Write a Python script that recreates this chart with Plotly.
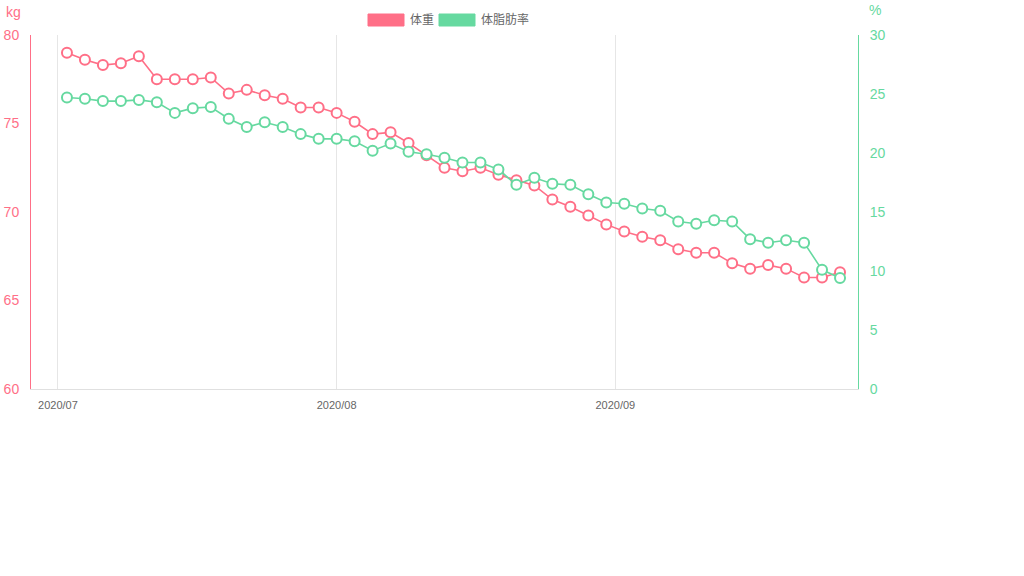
import plotly.graph_objects as go

# ---- data ----
dates = [
    "2020-07-02", "2020-07-04", "2020-07-06", "2020-07-08", "2020-07-10",
    "2020-07-12", "2020-07-14", "2020-07-16", "2020-07-18", "2020-07-20",
    "2020-07-22", "2020-07-24", "2020-07-26", "2020-07-28", "2020-07-30",
    "2020-08-01", "2020-08-03", "2020-08-05", "2020-08-07", "2020-08-09",
    "2020-08-11", "2020-08-13", "2020-08-15", "2020-08-17", "2020-08-19",
    "2020-08-21", "2020-08-23", "2020-08-25", "2020-08-27", "2020-08-29",
    "2020-08-31", "2020-09-02", "2020-09-04", "2020-09-06", "2020-09-08",
    "2020-09-10", "2020-09-12", "2020-09-14", "2020-09-16", "2020-09-18",
    "2020-09-20", "2020-09-22", "2020-09-24", "2020-09-26",
]
weight_kg = [
    79.0, 78.6, 78.3, 78.4, 78.8, 77.5, 77.5, 77.5, 77.6, 76.7,
    76.9, 76.6, 76.4, 75.9, 75.9, 75.6, 75.1, 74.4, 74.5, 73.9,
    73.2, 72.5, 72.3, 72.5, 72.1, 71.8, 71.5, 70.7, 70.3, 69.8,
    69.3, 68.9, 68.6, 68.4, 67.9, 67.7, 67.7, 67.1, 66.8, 67.0,
    66.8, 66.3, 66.3, 66.6,
]
body_fat_pct = [
    24.7, 24.6, 24.4, 24.4, 24.5, 24.3, 23.4, 23.8, 23.9, 22.9,
    22.2, 22.6, 22.2, 21.6, 21.2, 21.2, 21.0, 20.2, 20.8, 20.1,
    19.9, 19.6, 19.2, 19.2, 18.6, 17.3, 17.9, 17.4, 17.3, 16.5,
    15.8, 15.7, 15.3, 15.1, 14.2, 14.0, 14.3, 14.2, 12.7, 12.4,
    12.6, 12.4, 10.1, 9.4,
]
series_names = ["体重", "体脂肪率"]
x_tick_vals = ["2020-07-01", "2020-08-01", "2020-09-01"]
x_tick_text = ["2020/07", "2020/08", "2020/09"]
kg_ticks = [60, 65, 70, 75, 80]
pct_ticks = [0, 5, 10, 15, 20, 25, 30]

# ---- style ----
RED = "#ff6f87"
GREEN = "#66d9a0"
FONT = "Liberation Sans, Noto Sans CJK JP, sans-serif"
W, H = 1024, 576
L, R, T, B = 31, 858, 35, 389

fig = go.Figure()
fig.add_trace(go.Scatter(
    x=dates, y=weight_kg, name=series_names[0], mode="lines+markers",
    line=dict(color=RED, width=1.6),
    marker=dict(size=10, color="white", line=dict(color=RED, width=2)),
    yaxis="y", showlegend=False,
))
fig.add_trace(go.Scatter(
    x=dates, y=body_fat_pct, name=series_names[1], mode="lines+markers",
    line=dict(color=GREEN, width=1.6),
    marker=dict(size=10, color="white", line=dict(color=GREEN, width=2)),
    yaxis="y2", showlegend=False,
))


def px(xp):
    return (xp - L) / (R - L)


def py(yp):
    return (B - yp) / (B - T)


shapes = []
annotations = []
# manual legend (Chart.js style boxes)
legend_items = [(368, series_names[0], RED), (439, series_names[1], GREEN)]
for x0, name, col in legend_items:
    shapes.append(dict(type="rect", xref="paper", yref="paper",
                       x0=px(x0), x1=px(x0 + 36), y0=py(26), y1=py(14),
                       fillcolor=col, line=dict(color=col, width=1), layer="above"))
    annotations.append(dict(text=name, xref="paper", yref="paper",
                            x=px(x0 + 40), y=py(20), xanchor="left", yanchor="middle",
                            showarrow=False, font=dict(size=12, color="#666", family=FONT)))
# axis unit titles
annotations.append(dict(text="kg", xref="paper", yref="paper", x=px(23), y=py(12),
                        xanchor="right", yanchor="middle", showarrow=False,
                        font=dict(size=14, color=RED, family=FONT)))
annotations.append(dict(text="%", xref="paper", yref="paper", x=px(867), y=py(10),
                        xanchor="left", yanchor="middle", showarrow=False,
                        font=dict(size=14, color=GREEN, family=FONT)))

fig.update_layout(
    width=W, height=H,
    margin=dict(l=L, r=W - R, t=T, b=H - B, pad=0, autoexpand=False),
    paper_bgcolor="white", plot_bgcolor="white",
    font=dict(family=FONT),
    showlegend=False,
    shapes=shapes, annotations=annotations,
    xaxis=dict(
        type="date", range=["2020-06-28", "2020-09-28"],
        tickvals=x_tick_vals, ticktext=x_tick_text,
        showgrid=True, gridcolor="#e6e6e6", gridwidth=1,
        showline=True, linecolor="#e0e0e0", linewidth=1,
        ticks="", tickfont=dict(size=11, color="#666"),
        ticklabelstandoff=6, zeroline=False, automargin=False,
    ),
    yaxis=dict(
        range=[60, 80], tickvals=kg_ticks, showgrid=False, zeroline=False,
        showline=True, linecolor=RED, linewidth=1, automargin=False,
        ticks="", tickfont=dict(size=14, color=RED), ticklabelstandoff=8,
    ),
    yaxis2=dict(
        range=[0, 30], tickvals=pct_ticks, overlaying="y", side="right",
        showgrid=False, zeroline=False, automargin=False,
        showline=True, linecolor=GREEN, linewidth=1,
        ticks="", tickfont=dict(size=14, color=GREEN), ticklabelstandoff=8,
    ),
)

fig.write_html("out.html")
